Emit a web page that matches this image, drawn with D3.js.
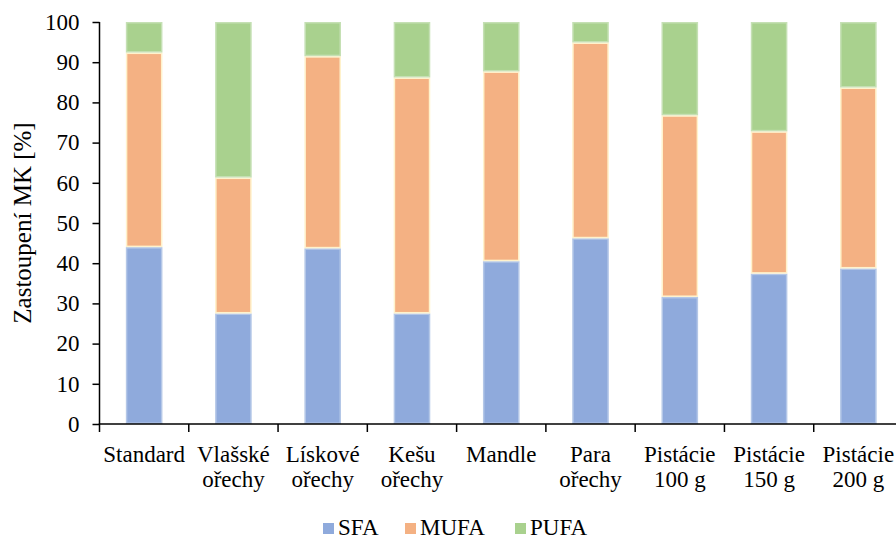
<!DOCTYPE html>
<html>
<head>
<meta charset="utf-8">
<script src="https://cdn.jsdelivr.net/npm/d3@7"></script>
</head>
<body style="margin:0">
<svg id="chart" width="896" height="539"></svg>
<script>
// Fatty-acid composition (% of total) per sample
const categories = [
  ["Standard"],
  ["Vlašské", "ořechy"],
  ["Lískové", "ořechy"],
  ["Kešu", "ořechy"],
  ["Mandle"],
  ["Para", "ořechy"],
  ["Pistácie", "100 g"],
  ["Pistácie", "150 g"],
  ["Pistácie", "200 g"]
];
const sfa  = [44.0, 27.5, 43.7, 27.5, 40.5, 46.2, 31.6, 37.4, 38.7];
const mufa = [48.4, 33.8, 47.8, 58.7, 47.2, 48.7, 45.2, 35.4, 45.0];
const pufa = [7.6, 38.7, 8.5, 13.8, 12.3, 5.1, 23.2, 27.2, 16.3];
const yTicks = [0, 10, 20, 30, 40, 50, 60, 70, 80, 90, 100];
const seriesNames = ["SFA", "MUFA", "PUFA"];

const fills   = { SFA: "#8faadc", MUFA: "#f4b183", PUFA: "#a9d18e" };
const strokes = { SFA: "#b4c7e7", MUFA: "#fff2cc", PUFA: "#c5e0b4" };
const FS = 23;

const rows = categories.map((c, i) => ({ key: i, SFA: sfa[i], MUFA: mufa[i], PUFA: pufa[i] }));
const stacked = d3.stack().keys(seriesNames)(rows);

const svg = d3.select("#chart");
const x0 = 99.5, x1 = 903, yTop = 22, yBottom = 424;

const x = d3.scaleBand()
  .domain(rows.map(d => d.key))
  .range([x0, x1])
  .paddingInner(0.59)
  .paddingOuter(0.295);

const y = d3.scaleLinear().domain([0, 100]).range([yBottom, yTop]);

// Stacked bars
svg.append("g").selectAll("g")
  .data(stacked)
  .join("g")
    .attr("fill", s => fills[s.key])
    .attr("stroke", s => strokes[s.key])
    .attr("stroke-width", 1.5)
  .selectAll("rect")
  .data(s => s)
  .join("rect")
    .attr("x", d => x(d.data.key) + 0.75)
    .attr("y", d => y(d[1]) + 0.75)
    .attr("width", x.bandwidth() - 1.5)
    .attr("height", d => Math.max(0, y(d[0]) - y(d[1]) - 1.5));

// Y axis
const yAxis = svg.append("g")
  .attr("transform", `translate(${x0},0)`)
  .call(d3.axisLeft(y).tickValues(yTicks).tickSize(7).tickPadding(13))
  .attr("font-family", null)
  .attr("font-size", null);
yAxis.select(".domain").attr("stroke", "#000").attr("stroke-width", 1.5)
  .attr("d", `M0,${yTop}V${yBottom}`);
yAxis.selectAll(".tick line").attr("stroke", "#000").attr("stroke-width", 1.5);
yAxis.selectAll(".tick text")
  .style("font-family", '"Times New Roman"')
  .attr("font-size", FS)
  .attr("fill", "#000");

// X axis: boundary ticks between categories
const step = x.step();
const boundaries = d3.range(categories.length + 1).map(i => x0 + i * step);
const xAxisG = svg.append("g");
xAxisG.append("line")
  .attr("x1", x0 - 0.75).attr("x2", 896)
  .attr("y1", yBottom).attr("y2", yBottom)
  .attr("stroke", "#000").attr("stroke-width", 1.5);
xAxisG.selectAll("line.tk")
  .data(boundaries.filter(b => b <= 896))
  .join("line")
    .attr("class", "tk")
    .attr("x1", d => d).attr("x2", d => d)
    .attr("y1", yBottom).attr("y2", yBottom + 8)
    .attr("stroke", "#000").attr("stroke-width", 1.5);

// Category labels (one or two lines)
const labels = svg.append("g");
categories.forEach((lines, i) => {
  const cx = x(i) + x.bandwidth() / 2;
  lines.forEach((t, j) => {
    labels.append("text")
      .style("font-family", '"Times New Roman"')
      .attr("font-size", FS)
      .attr("text-anchor", "middle")
      .attr("x", cx)
      .attr("y", 462 + j * 25)
      .text(t);
  });
});

// Y axis title
svg.append("text")
  .style("font-family", '"Times New Roman"')
  .attr("font-size", 25)
  .attr("transform", `translate(31,${(yTop + yBottom) / 2}) rotate(-90)`)
  .attr("text-anchor", "middle")
  .text("Zastoupení MK [%]");

// Legend
const legendX = [323, 405, 515];
const legend = svg.append("g");
seriesNames.forEach((name, i) => {
  legend.append("rect")
    .attr("x", legendX[i]).attr("y", 523)
    .attr("width", 11).attr("height", 11)
    .attr("fill", fills[name]);
  legend.append("text")
    .style("font-family", '"Times New Roman"')
    .attr("font-size", FS)
    .attr("x", legendX[i] + 15).attr("y", 535)
    .text(name);
});
</script>
</body>
</html>
